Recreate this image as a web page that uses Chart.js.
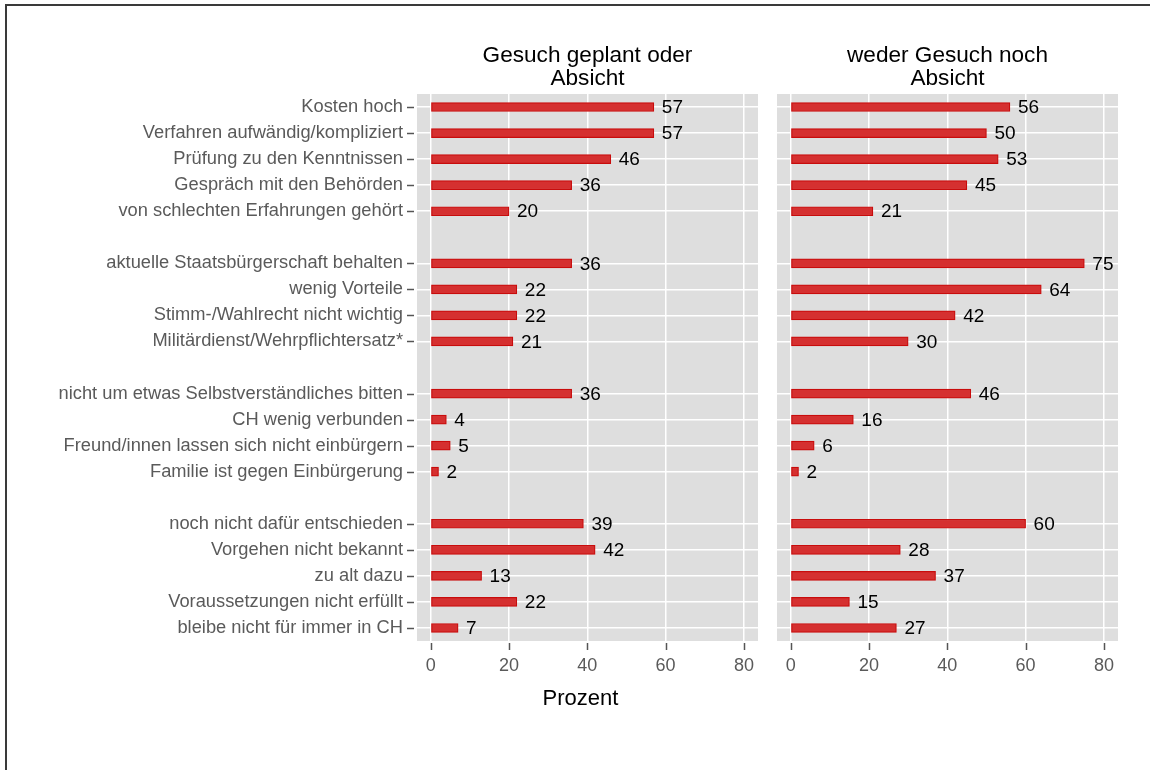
<!DOCTYPE html>
<html><head><meta charset="utf-8">
<script src="https://cdn.jsdelivr.net/npm/chart.js@4/dist/chart.umd.min.js"></script>
<style>
html,body{margin:0;padding:0;background:#fff;}
#wrap{position:relative;width:1150px;height:770px;overflow:hidden;background:#fff;}
#frame{position:absolute;left:5px;top:4px;width:1200px;height:800px;border-left:2px solid #3a3a3a;border-top:2px solid #3a3a3a;}
canvas{position:absolute;top:0;}
</style></head><body>
<div id="wrap"><div id="frame"></div>
<canvas id="c1" width="790" height="770" style="left:0;width:790px;height:770px"></canvas>
<canvas id="c2" width="390" height="770" style="left:760px;width:390px;height:770px"></canvas>
</div>
<script>
const categories = [
  "Kosten hoch", "Verfahren aufwändig/kompliziert", "Prüfung zu den Kenntnissen",
  "Gespräch mit den Behörden", "von schlechten Erfahrungen gehört", "",
  "aktuelle Staatsbürgerschaft behalten", "wenig Vorteile", "Stimm-/Wahlrecht nicht wichtig",
  "Militärdienst/Wehrpflichtersatz*", "",
  "nicht um etwas Selbstverständliches bitten", "CH wenig verbunden",
  "Freund/innen lassen sich nicht einbürgern", "Familie ist gegen Einbürgerung", "",
  "noch nicht dafür entschieden", "Vorgehen nicht bekannt", "zu alt dazu",
  "Voraussetzungen nicht erfüllt", "bleibe nicht für immer in CH"
];
const panelTitles = [["Gesuch geplant oder", "Absicht"], ["weder Gesuch noch", "Absicht"]];
const seriesPlanned = [57, 57, 46, 36, 20, null, 36, 22, 22, 21, null, 36, 4, 5, 2, null, 39, 42, 13, 22, 7];
const seriesNone    = [56, 50, 53, 45, 21, null, 75, 64, 42, 30, null, 46, 16, 6, 2, null, 60, 28, 37, 15, 27];
const xTicks = [0, 20, 40, 60, 80];
const xTitle = "Prozent";

const FONT = "'Liberation Sans', Arial, Helvetica, sans-serif";
const GREY = "#5a5a5a";
const PANEL_BG = "#dedede";

function makeChart(canvasId, values, title, showY) {
  const decor = {
    id: 'decor' + canvasId,
    beforeDraw(chart) {
      const {ctx, chartArea: a} = chart;
      ctx.save();
      ctx.fillStyle = PANEL_BG;
      ctx.fillRect(a.left, a.top, a.right - a.left, a.bottom - a.top);
      ctx.restore();
    },
    afterDatasetsDraw(chart) {
      const {ctx} = chart;
      const meta = chart.getDatasetMeta(0);
      ctx.save();
      ctx.fillStyle = "#000";
      ctx.font = "19px " + FONT;
      ctx.textAlign = "left";
      ctx.textBaseline = "middle";
      meta.data.forEach((el, i) => {
        const v = values[i];
        if (v == null) return;
        ctx.fillText(String(v), el.x + 8, el.y + 1);
      });
      ctx.restore();
    },
    afterDraw(chart) {
      const {ctx, chartArea: a} = chart;
      const xs = chart.scales.x, ys = chart.scales.y;
      ctx.save();
      ctx.strokeStyle = "#555";
      ctx.lineWidth = 1.5;
      xs.ticks.forEach((t, i) => {
        const px = Math.round(xs.getPixelForTick(i)) + 0.5;
        ctx.beginPath();
        ctx.moveTo(px, a.bottom + 2);
        ctx.lineTo(px, a.bottom + 9);
        ctx.stroke();
      });
      if (showY) {
        categories.forEach((c, i) => {
          if (!c) return;
          const py = Math.round(ys.getPixelForTick(i)) + 0.5;
          ctx.beginPath();
          ctx.moveTo(a.left - 10, py);
          ctx.lineTo(a.left - 3, py);
          ctx.stroke();
        });
      }
      ctx.fillStyle = "#000";
      ctx.font = "22.6px " + FONT;
      ctx.textAlign = "center";
      ctx.textBaseline = "alphabetic";
      const cx = (a.left + a.right) / 2;
      ctx.fillText(title[0], cx, 62);
      ctx.fillText(title[1], cx, 85);
      if (showY) {
        ctx.font = "22px " + FONT;
        ctx.fillText(xTitle, cx - 7, 705);
      }
      ctx.restore();
    }
  };

  return new Chart(document.getElementById(canvasId), {
    type: 'bar',
    data: {
      labels: categories,
      datasets: [{
        data: values,
        backgroundColor: "#d53030",
        borderColor: "#c80c0c",
        borderWidth: 1.2,
        barThickness: 9,
        borderSkipped: false
      }]
    },
    options: {
      indexAxis: 'y',
      responsive: false,
      animation: false,
      devicePixelRatio: 1,
      layout: {
        padding: showY ? {left: 0, right: 32, top: 94, bottom: 69}
                       : {left: 17, right: 32, top: 94, bottom: 69}
      },
      plugins: {legend: {display: false}, tooltip: {enabled: false}, title: {display: false}},
      scales: {
        x: {
          type: 'linear',
          min: -3.5,
          max: 83.6,
          afterBuildTicks: s => { s.ticks = xTicks.map(v => ({value: v})); },
          afterFit: s => { s.height = 60; },
          grid: {color: "#ffffff", lineWidth: 1.5, drawTicks: false},
          border: {display: false},
          ticks: {
            color: GREY, font: {size: 18, family: FONT}, padding: 14,
            autoSkip: false, maxRotation: 0
          }
        },
        y: {
          type: 'category',
          offset: true,
          afterFit: s => { s.width = showY ? 417 : 0; },
          grid: {
            offset: false,
            drawTicks: false,
            lineWidth: 1.5,
            color: ctx => (ctx.index != null && categories[ctx.index]) ? "#ffffff" : "rgba(0,0,0,0)"
          },
          border: {display: false},
          ticks: {
            display: showY,
            autoSkip: false,
            color: GREY,
            font: {size: 18.3, family: FONT},
            padding: 14
          }
        }
      }
    },
    plugins: [decor]
  });
}

makeChart('c1', seriesPlanned, panelTitles[0], true);
makeChart('c2', seriesNone, panelTitles[1], false);
</script>
</body></html>
